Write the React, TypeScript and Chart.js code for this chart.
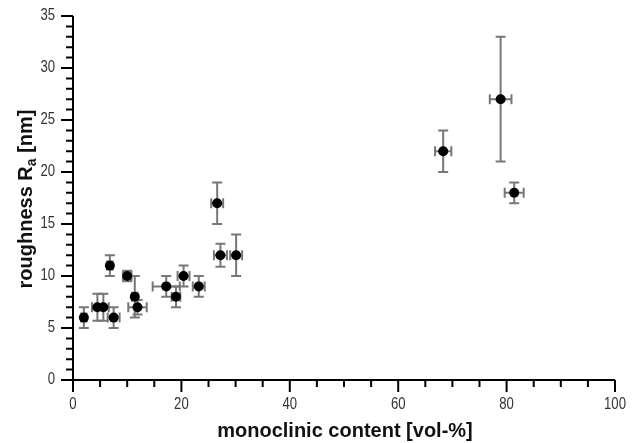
import React, { useEffect, useRef } from "react";
import { Chart, registerables } from "chart.js";

Chart.register(...registerables);

// Data
const monoclinic = [2, 4.5, 5.6, 7.5, 6.8, 10, 11.4, 11.9, 17.2, 19, 20.4, 23.2, 26.6, 27.2, 30.1, 68.3, 78.9, 81.4];
const roughness = [6, 7, 7, 6, 11, 10, 8, 7, 9, 8, 10, 9, 17, 12, 12, 22, 27, 18];
const monoclinicErr = [0.5, 1, 1, 1.1, 0.5, 0.8, 0.5, 1.7, 2.5, 0.8, 1.1, 1.1, 1.1, 1.2, 1.1, 1.5, 2, 1.75];
const roughnessErr = [1, 1.3, 1.3, 1, 1, 0.5, 2, 0.7, 1, 1, 1, 1, 2, 1.1, 2, 2, 6, 1];

const xMajorTicks = [0, 20, 40, 60, 80, 100];
const yMajorTicks = [0, 5, 10, 15, 20, 25, 30, 35];
const xMinorStep = 5;
const yMinorStep = 1;

const xTitle = "monoclinic content [vol-%]";
const yTitleMain = "roughness R";
const yTitleSub = "a";
const yTitleEnd = " [nm]";

const FONT = '"Liberation Sans", Arial, Helvetica, sans-serif';

const errorBarPlugin = {
  id: "errorBars",
  beforeDatasetsDraw(chart: any) {
    const { ctx } = chart;
    const xs = chart.scales.x;
    const ys = chart.scales.y;
    ctx.save();
    ctx.strokeStyle = "#777777";
    ctx.lineWidth = 2;
    const cap = 5;
    for (let i = 0; i < monoclinic.length; i++) {
      const px = xs.getPixelForValue(monoclinic[i]);
      const py = ys.getPixelForValue(roughness[i]);
      const yTop = ys.getPixelForValue(roughness[i] + roughnessErr[i]);
      const yBot = ys.getPixelForValue(roughness[i] - roughnessErr[i]);
      const xL = xs.getPixelForValue(monoclinic[i] - monoclinicErr[i]);
      const xR = xs.getPixelForValue(monoclinic[i] + monoclinicErr[i]);
      ctx.beginPath();
      ctx.moveTo(px, yTop);
      ctx.lineTo(px, yBot);
      ctx.moveTo(px - cap, yTop);
      ctx.lineTo(px + cap, yTop);
      ctx.moveTo(px - cap, yBot);
      ctx.lineTo(px + cap, yBot);
      ctx.moveTo(xL, py);
      ctx.lineTo(xR, py);
      ctx.moveTo(xL, py - cap);
      ctx.lineTo(xL, py + cap);
      ctx.moveTo(xR, py - cap);
      ctx.lineTo(xR, py + cap);
      ctx.stroke();
    }
    ctx.restore();
  },
};

const axesPlugin = {
  id: "axesDecor",
  afterDraw(chart: any) {
    const { ctx, chartArea } = chart;
    const xs = chart.scales.x;
    const ys = chart.scales.y;
    const { left, right, top, bottom } = chartArea;
    ctx.save();
    ctx.strokeStyle = "#000";
    ctx.lineWidth = 2;
    ctx.beginPath();
    ctx.moveTo(left, top);
    ctx.lineTo(left, bottom);
    ctx.moveTo(left, bottom);
    ctx.lineTo(right, bottom);
    // y ticks
    for (let v = ys.min; v <= ys.max + 1e-9; v += yMinorStep) {
      const len = yMajorTicks.includes(v) ? 12 : 7;
      const py = ys.getPixelForValue(v);
      ctx.moveTo(left - len, py);
      ctx.lineTo(left, py);
    }
    // x ticks
    for (let v = xs.min; v <= xs.max + 1e-9; v += xMinorStep) {
      const len = xMajorTicks.includes(v) ? 12 : 7;
      const px = xs.getPixelForValue(v);
      ctx.moveTo(px, bottom);
      ctx.lineTo(px, bottom + len);
    }
    ctx.stroke();

    // tick labels
    ctx.fillStyle = "#333";
    ctx.font = `16px ${FONT}`;
    ctx.textBaseline = "middle";
    for (const v of yMajorTicks) {
      const py = ys.getPixelForValue(v);
      ctx.save();
      ctx.translate(left - 18, py);
      ctx.scale(0.82, 1);
      ctx.textAlign = "right";
      ctx.fillText(String(v), 0, 0);
      ctx.restore();
    }
    for (const v of xMajorTicks) {
      const px = xs.getPixelForValue(v);
      ctx.save();
      ctx.translate(px, bottom + 25);
      ctx.scale(0.82, 1);
      ctx.textAlign = "center";
      ctx.fillText(String(v), 0, 0);
      ctx.restore();
    }

    // x title
    ctx.fillStyle = "#111";
    ctx.font = `bold 20px ${FONT}`;
    ctx.textAlign = "center";
    ctx.textBaseline = "alphabetic";
    ctx.fillText(xTitle, (left + right) / 2 + 1, bottom + 57);

    // y title with subscript
    const mainFont = `bold 20px ${FONT}`;
    const subFont = `bold 14px ${FONT}`;
    ctx.font = mainFont;
    const w1 = ctx.measureText(yTitleMain).width;
    const w3 = ctx.measureText(yTitleEnd).width;
    ctx.font = subFont;
    const w2 = ctx.measureText(yTitleSub).width;
    const total = w1 + w2 + w3;
    ctx.save();
    ctx.translate(32, 199);
    ctx.rotate(-Math.PI / 2);
    ctx.textAlign = "left";
    let cx = -total / 2;
    ctx.font = mainFont;
    ctx.fillText(yTitleMain, cx, 0);
    cx += w1;
    ctx.font = subFont;
    ctx.fillText(yTitleSub, cx, 4);
    cx += w2;
    ctx.font = mainFont;
    ctx.fillText(yTitleEnd, cx, 0);
    ctx.restore();

    ctx.restore();
  },
};

export default function App() {
  const canvasRef = useRef<HTMLCanvasElement | null>(null);

  useEffect(() => {
    document.body.style.margin = "0";
    const canvas = canvasRef.current;
    if (!canvas) return;
    const points = monoclinic.map((x, i) => ({ x, y: roughness[i] }));
    const chart = new Chart(canvas, {
      type: "scatter",
      data: {
        datasets: [
          {
            data: points,
            pointRadius: 5,
            pointHoverRadius: 5,
            backgroundColor: "#000",
            borderColor: "#000",
            borderWidth: 0,
          },
        ],
      },
      options: {
        responsive: false,
        animation: false,
        events: [],
        layout: { padding: { left: 0, right: 26, top: 16, bottom: 0 } },
        plugins: {
          legend: { display: false },
          tooltip: { enabled: false },
        },
        scales: {
          x: {
            type: "linear",
            min: 0,
            max: 100,
            grid: { display: false },
            border: { display: false },
            ticks: { display: false },
            afterFit: (s: any) => {
              s.height = 63;
            },
          },
          y: {
            type: "linear",
            min: 0,
            max: 35,
            grid: { display: false },
            border: { display: false },
            ticks: { display: false },
            afterFit: (s: any) => {
              s.width = 73;
            },
          },
        },
      },
      plugins: [errorBarPlugin, axesPlugin],
    } as any);
    return () => chart.destroy();
  }, []);

  return (
    <div style={{ position: "absolute", left: 0, top: 0, width: 641, height: 443, background: "#fff" }}>
      <canvas ref={canvasRef} width={641} height={443} style={{ display: "block" }} />
    </div>
  );
}
